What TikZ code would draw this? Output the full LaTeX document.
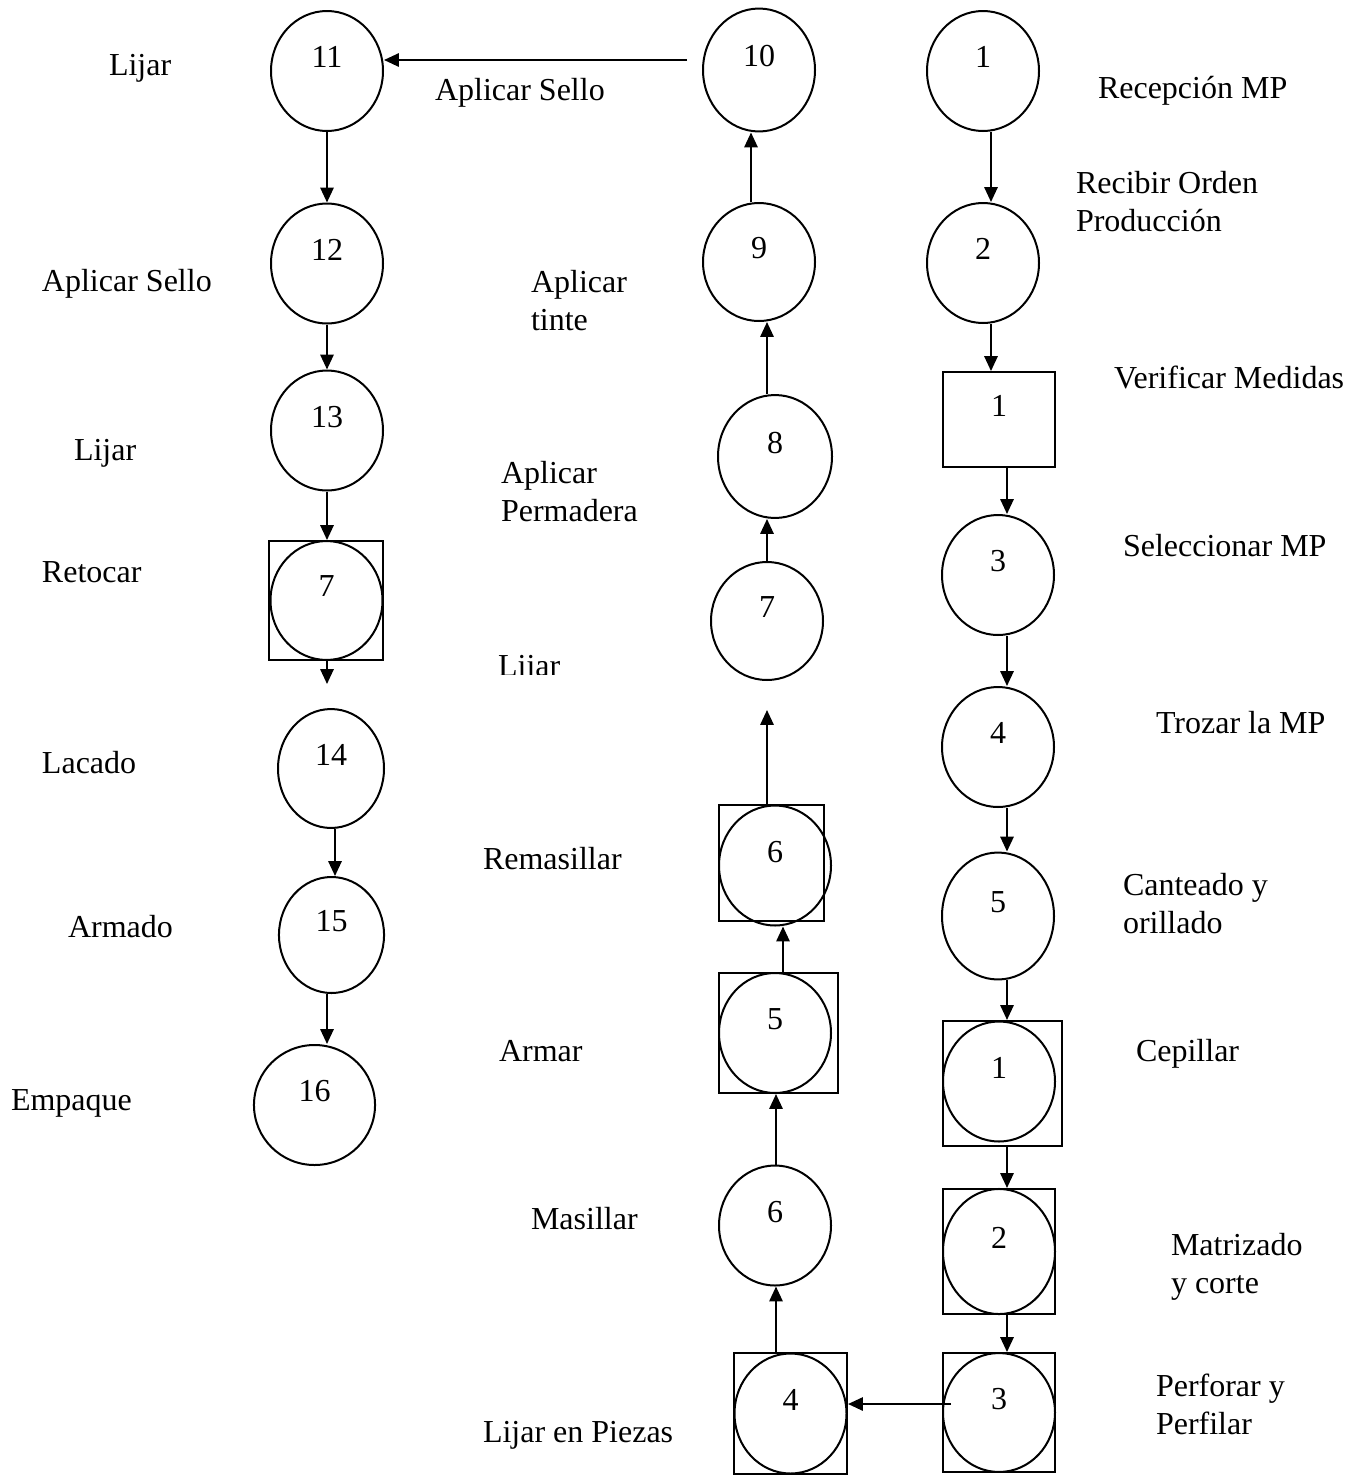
\documentclass[tikz,border=0pt]{standalone}
\usepackage{fontspec}
\setmainfont{Liberation Serif}
\usetikzlibrary{shapes.geometric,arrows.meta}

\begin{document}
\begin{tikzpicture}[x=0.375pt, y=-0.375pt, line width=0.75pt,
                    font=\fontsize{12}{14.25}\selectfont,
                    op node/.style={ellipse,draw,inner sep=0pt,minimum width=42pt,minimum height=45pt,text depth=10.5pt},
                    insp node/.style={rectangle,draw,inner sep=0pt,text depth=10.5pt},
                    step label/.style={inner sep=0pt,anchor=base west},
                    two label/.style={inner sep=0pt,anchor=north west,align=left},
                    flow/.style={-{Triangle[length=5.6pt,width=5pt]}}]

  \useasboundingbox (0,0) rectangle (1366,1475);

  % right column
  \node[op node] (op1) at (983,71) {1};
  \node[op node] (op2) at (983,263) {2};
  \node[insp node,minimum width=42pt,minimum height=35.6pt] (in1) at (999,419.5) {1};
  \node[op node] (op3) at (998,575) {3};
  \node[op node] (op4) at (998,747) {4};
  \node[op node,minimum height=47.6pt] (op5) at (998,916) {5};
  \node[insp node,minimum width=44.6pt,minimum height=46.9pt] (bx1) at (1002.5,1083.5) {};
  \node[op node] (oi1) at (999,1081.5) {1};
  \node[insp node,minimum width=42pt,minimum height=46.9pt] (bx2) at (999,1251.5) {};
  \node[op node,minimum height=46.9pt] (oi2) at (999,1251.5) {2};
  \node[insp node,minimum width=42pt,minimum height=44.6pt] (bx3) at (999,1412.5) {};
  \node[op node,minimum height=44.6pt] (oi3) at (999,1412.5) {3};

  % middle column
  \node[insp node,minimum width=42.4pt,minimum height=45.4pt] (bx4) at (790.5,1413.5) {};
  \node[op node] (oi4) at (790.5,1413.5) {4};
  \node[op node] (op6) at (775,1225.5) {6};
  \node[insp node,minimum width=44.6pt,minimum height=45pt] (bx5) at (778.5,1033) {};
  \node[op node] (oi5) at (775,1033) {5};
  \node[insp node,minimum width=39.4pt,minimum height=43.5pt] (bx6) at (771.5,863) {};
  \node[op node] (oi6) at (775,865.5) {6};
  \node[op node,minimum height=44.25pt] (op7) at (767,621) {7};
  \node[op node,minimum width=42.75pt,minimum height=46.1pt] (op8) at (775,456.5) {8};
  \node[op node,minimum height=44.25pt] (op9) at (759,262) {9};
  \node[op node,minimum height=46.1pt] (op10) at (759,70) {10};

  % left column
  \node[op node] (op11) at (327,71) {11};
  \node[op node] (op12) at (327,263.5) {12};
  \node[op node] (op13) at (327,430.5) {13};
  \node[insp node,minimum width=42.75pt,minimum height=44.6pt] (bx7) at (326,600.5) {};
  \node[op node,minimum height=44.6pt] (oi7) at (326.5,600.5) {7};
  \node[op node,minimum width=39.75pt,minimum height=44.6pt] (op14) at (331,768.5) {14};
  \node[op node,minimum width=39.4pt,minimum height=43.5pt] (op15) at (331.5,935) {15};
  \node[op node,minimum width=45.4pt] (op16) at (314.5,1105) {16};

  \coordinate (colA) at (991,0);
  \coordinate (colB) at (1007,0);
  \coordinate (colC) at (776,0);
  \coordinate (colD) at (783,0);
  \coordinate (colE) at (767,0);
  \coordinate (colF) at (751,0);
  \coordinate (colG) at (327,0);
  \coordinate (colH) at (335,0);
  \coordinate (rowT) at (0,60);
  \coordinate (rowB) at (0,1404);
  \coordinate (open1) at (767,710);
  \coordinate (open2) at (327,684);

  \draw[flow] (op1.south -| colA) -- (op2.north -| colA);
  \draw[flow] (op2.south -| colA) -- (in1.north -| colA);
  \draw[flow] (in1.south -| colB) -- (op3.north -| colB);
  \draw[flow] (op3.south -| colB) -- (op4.north -| colB);
  \draw[flow] (op4.south -| colB) -- (op5.north -| colB);
  \draw[flow] (op5.south -| colB) -- (bx1.north -| colB);
  \draw[flow] (bx1.south -| colB) -- (bx2.north -| colB);
  \draw[flow] (bx2.south -| colB) -- (bx3.north -| colB);
  \draw[flow] ([xshift=3.4pt]oi3.west |- rowB) -- (bx4.east |- rowB);

  \draw[flow] (bx4.north -| colC) -- (op6.south -| colC);
  \draw[flow] (op6.north -| colC) -- (bx5.south -| colC);
  \draw[flow] (bx5.north -| colD) -- (oi6.south -| colD);
  \draw[flow] (bx6.north -| colE) -- (open1);
  \draw[flow] (op7.north -| colE) -- (op8.south -| colE);
  \draw[flow] (op8.north -| colE) -- (op9.south -| colE);
  \draw[flow] (op9.north -| colF) -- (op10.south -| colF);
  \draw[flow] ([xshift=-5.6pt]op10.west |- rowT) -- (op11.east |- rowT);

  \draw[flow] (op11.south -| colG) -- (op12.north -| colG);
  \draw[flow] (op12.south -| colG) -- (op13.north -| colG);
  \draw[flow] (op13.south -| colG) -- (bx7.north -| colG);
  \draw[flow] (bx7.south -| colG) -- (open2);
  \draw[flow] (op14.south -| colH) -- (op15.north -| colH);
  \draw[flow] (op15.south -| colG) -- (op16.north -| colG);

  % labels
  \node[step label] (t11) at (108,75.5) {Lijar};
  \node[step label] (t10) at (434,100.5) {Aplicar Sello};
  \node[step label] (t1) at (1097,98.5) {Recepción MP};
  \node[two label] (t2) at (1075,170.5) {Recibir Orden\\Producción};
  \node[step label] (t12) at (41,291.5) {Aplicar Sello};
  \node[two label] (t9) at (530,269.5) {Aplicar\\tinte};
  \node[step label] (ti1) at (1113,388.5) {Verificar Medidas};
  \node[step label] (t13) at (73,460.5) {Lijar};
  \node[two label] (t8) at (500,460.5) {Aplicar\\Permadera};
  \node[step label] (t3) at (1122,556.5) {Seleccionar MP};
  \node[step label] (tr7) at (41,582.5) {Retocar};
  \begin{scope}
    \clip (480,640) rectangle (580,674);
    \node[step label] (t7) at (497,676) {Lijar};
  \end{scope}
  \node[step label] (t4) at (1155,733.5) {Trozar la MP};
  \node[step label] (t14) at (41,773.5) {Lacado};
  \node[step label] (tr6) at (482,869.5) {Remasillar};
  \node[two label] (t5) at (1122,872.5) {Canteado y\\orillado};
  \node[step label] (t15) at (67,937.5) {Armado};
  \node[step label] (tr5) at (498,1061.5) {Armar};
  \node[step label] (ti2) at (1135,1061.5) {Cepillar};
  \node[step label] (t16) at (10,1110.5) {Empaque};
  \node[step label] (t6) at (530,1229.5) {Masillar};
  \node[two label] (ti3) at (1170,1232.5) {Matrizado\\y corte};
  \node[two label] (ti4) at (1155,1372.5) {Perforar y\\Perfilar};
  \node[step label] (ti5) at (482,1442.5) {Lijar en Piezas};

\end{tikzpicture}
\end{document}
